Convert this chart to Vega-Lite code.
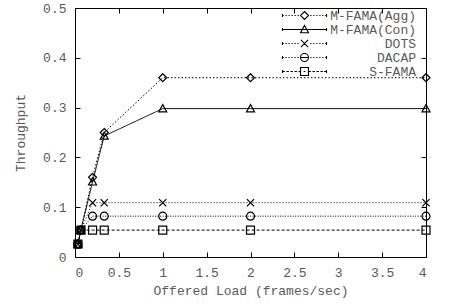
{
  "$schema": "https://vega.github.io/schema/vega-lite/v6.json",
  "width": 351,
  "height": 249,
  "autosize": {"type": "none"},
  "padding": {"left": 75, "top": 8, "right": 28, "bottom": 47},
  "config": {
    "view": {"stroke": "black", "strokeWidth": 1},
    "font": "Liberation Mono",
    "axis": {
      "labelFont": "Liberation Mono",
      "labelFontSize": 13,
      "labelColor": "#5a5a5a",
      "titleFont": "Liberation Mono",
      "titleFontSize": 13,
      "titleFontWeight": "normal",
      "titleColor": "#5a5a5a",
      "grid": false,
      "domain": false,
      "tickColor": "black",
      "tickSize": -5,
      "tickWidth": 1
    },
    "legend": {
      "labelFont": "Liberation Mono",
      "labelFontSize": 13,
      "labelColor": "#5a5a5a"
    }
  },
  "data": {
    "values": [
      {"series": "M-FAMA(Agg)", "x": 0.033, "y": 0.026},
      {"series": "M-FAMA(Agg)", "x": 0.067, "y": 0.054},
      {"series": "M-FAMA(Agg)", "x": 0.2, "y": 0.16},
      {"series": "M-FAMA(Agg)", "x": 0.333, "y": 0.25},
      {"series": "M-FAMA(Agg)", "x": 1, "y": 0.36},
      {"series": "M-FAMA(Agg)", "x": 2, "y": 0.36},
      {"series": "M-FAMA(Agg)", "x": 4, "y": 0.36},
      {"series": "M-FAMA(Con)", "x": 0.033, "y": 0.026},
      {"series": "M-FAMA(Con)", "x": 0.067, "y": 0.054},
      {"series": "M-FAMA(Con)", "x": 0.2, "y": 0.151},
      {"series": "M-FAMA(Con)", "x": 0.333, "y": 0.243},
      {"series": "M-FAMA(Con)", "x": 1, "y": 0.298},
      {"series": "M-FAMA(Con)", "x": 2, "y": 0.298},
      {"series": "M-FAMA(Con)", "x": 4, "y": 0.298},
      {"series": "DOTS", "x": 0.033, "y": 0.026},
      {"series": "DOTS", "x": 0.067, "y": 0.054},
      {"series": "DOTS", "x": 0.2, "y": 0.109},
      {"series": "DOTS", "x": 0.333, "y": 0.109},
      {"series": "DOTS", "x": 1, "y": 0.109},
      {"series": "DOTS", "x": 2, "y": 0.109},
      {"series": "DOTS", "x": 4, "y": 0.109},
      {"series": "DACAP", "x": 0.033, "y": 0.026},
      {"series": "DACAP", "x": 0.067, "y": 0.054},
      {"series": "DACAP", "x": 0.2, "y": 0.082},
      {"series": "DACAP", "x": 0.333, "y": 0.082},
      {"series": "DACAP", "x": 1, "y": 0.082},
      {"series": "DACAP", "x": 2, "y": 0.082},
      {"series": "DACAP", "x": 4, "y": 0.082},
      {"series": "S-FAMA", "x": 0.033, "y": 0.026},
      {"series": "S-FAMA", "x": 0.067, "y": 0.054},
      {"series": "S-FAMA", "x": 0.2, "y": 0.054},
      {"series": "S-FAMA", "x": 0.333, "y": 0.054},
      {"series": "S-FAMA", "x": 1, "y": 0.054},
      {"series": "S-FAMA", "x": 2, "y": 0.054},
      {"series": "S-FAMA", "x": 4, "y": 0.054}
    ]
  },
  "layer": [
    {
      "mark": {"type": "line", "color": "black", "strokeWidth": 1},
      "encoding": {
        "x": {
          "field": "x", "type": "quantitative",
          "scale": {"domain": [0, 4], "nice": false, "zero": false},
          "axis": {"orient": "bottom", "values": [0, 0.5, 1, 1.5, 2, 2.5, 3, 3.5, 4], "format": "~g", "labelPadding": 14, "title": "Offered Load (frames/sec)", "titlePadding": 5}
        },
        "y": {
          "field": "y", "type": "quantitative",
          "scale": {"domain": [0, 0.5], "nice": false},
          "axis": {"orient": "left", "values": [0, 0.1, 0.2, 0.3, 0.4, 0.5], "format": "~g", "labelPadding": 14, "title": "Throughput", "titlePadding": 15}
        },
        "detail": {"field": "series"},
        "strokeDash": {
          "field": "series", "type": "nominal",
          "scale": {"domain": ["M-FAMA(Agg)", "M-FAMA(Con)", "DOTS", "DACAP", "S-FAMA"], "range": [[1.5, 2], [1, 0], [1, 2], [1, 1.5], [3, 2]]},
          "legend": null
        }
      }
    },
    {
      "mark": {"type": "point", "filled": false, "color": "black", "strokeWidth": 1.2, "size": 64, "opacity": 1},
      "encoding": {
        "x": {"field": "x", "type": "quantitative", "axis": {"orient": "top", "values": [0, 0.5, 1, 1.5, 2, 2.5, 3, 3.5, 4], "labels": false, "title": null}},
        "y": {"field": "y", "type": "quantitative", "axis": {"orient": "right", "values": [0, 0.1, 0.2, 0.3, 0.4, 0.5], "labels": false, "title": null}},
        "shape": {
          "field": "series", "type": "nominal",
          "scale": {
            "domain": ["M-FAMA(Agg)", "M-FAMA(Con)", "DOTS", "DACAP", "S-FAMA"],
            "range": [
              "M0,-1L1,0L0,1L-1,0Z",
              "M0,-1L1,0.8L-1,0.8Z",
              "M-0.9,-0.9L0.9,0.9M-0.9,0.9L0.9,-0.9",
              "M-1,0A1,1 0 1,0 1,0A1,1 0 1,0 -1,0Z",
              "M-1,-1H1V1H-1Z"
            ]
          },
          "legend": null
        }
      }
    },
    {
      "mark": {"type": "point", "filled": false, "color": "black", "strokeWidth": 1.1, "size": 64, "opacity": 0},
      "encoding": {
        "x": {"field": "x", "type": "quantitative", "axis": null},
        "y": {"field": "y", "type": "quantitative", "axis": null},
        "shape": {
          "field": "series", "type": "nominal",
          "scale": {
            "domain": ["M-FAMA(Agg)", "M-FAMA(Con)", "DOTS", "DACAP", "S-FAMA"],
            "range": [
              "M0,-1L1,0L0,1L-1,0ZM-5.5,-0.4V0.4M5.5,-0.4V0.4M-5.5,0h0.3M-4.75,0h0.3M-4,0h0.3M-3.25,0h0.3M-2.5,0h0.3M-1.75,0h0.3M1.45,0h0.3M2.2,0h0.3M2.95,0h0.3M3.7,0h0.3M4.45,0h0.3M5.2,0h0.3",
              "M0,-1L1,0.8L-1,0.8ZM-5.5,-0.4V0.4M5.5,-0.4V0.4M-5.5,0H5.5",
              "M-0.9,-0.9L0.9,0.9M-0.9,0.9L0.9,-0.9M-5.5,-0.4V0.4M5.5,-0.4V0.4M-5.5,0h0.3M-4.75,0h0.3M-4,0h0.3M-3.25,0h0.3M-2.5,0h0.3M-1.75,0h0.3M1.45,0h0.3M2.2,0h0.3M2.95,0h0.3M3.7,0h0.3M4.45,0h0.3M5.2,0h0.3",
              "M-1,0A1,1 0 1,0 1,0A1,1 0 1,0 -1,0ZM-5.5,-0.4V0.4M5.5,-0.4V0.4M-5.5,0h0.3M-4.75,0h0.3M-4,0h0.3M-3.25,0h0.3M-2.5,0h0.3M-1.75,0h0.3M-1,0H1M1.45,0h0.3M2.2,0h0.3M2.95,0h0.3M3.7,0h0.3M4.45,0h0.3M5.2,0h0.3",
              "M-1,-1H1V1H-1ZM-5.5,-0.4V0.4M5.5,-0.4V0.4M-5.5,0h0.6M-4.5,0h0.6M-3.5,0h0.6M-2.5,0h0.6M-1.5,0h0.5M1,0h0.6M2,0h0.6M3,0h0.6M4,0h0.6M4.9,0h0.6M-0.2,0H0.2"
            ]
          },
          "legend": {
            "title": null,
            "orient": "none",
            "legendX": 223,
            "legendY": 1,
            "padding": 0,
            "labelOffset": 105,
            "labelAlign": "right",
            "rowPadding": 0,
            "symbolSize": 64,
            "symbolOpacity": 1,
            "symbolStrokeColor": "black",
            "symbolFillColor": "transparent",
            "symbolStrokeWidth": 1.1,
            "labelLimit": 300
          }
        }
      }
    }
  ],
  "resolve": {"scale": {"shape": "independent"}, "axis": {"x": "independent", "y": "independent"}}
}
